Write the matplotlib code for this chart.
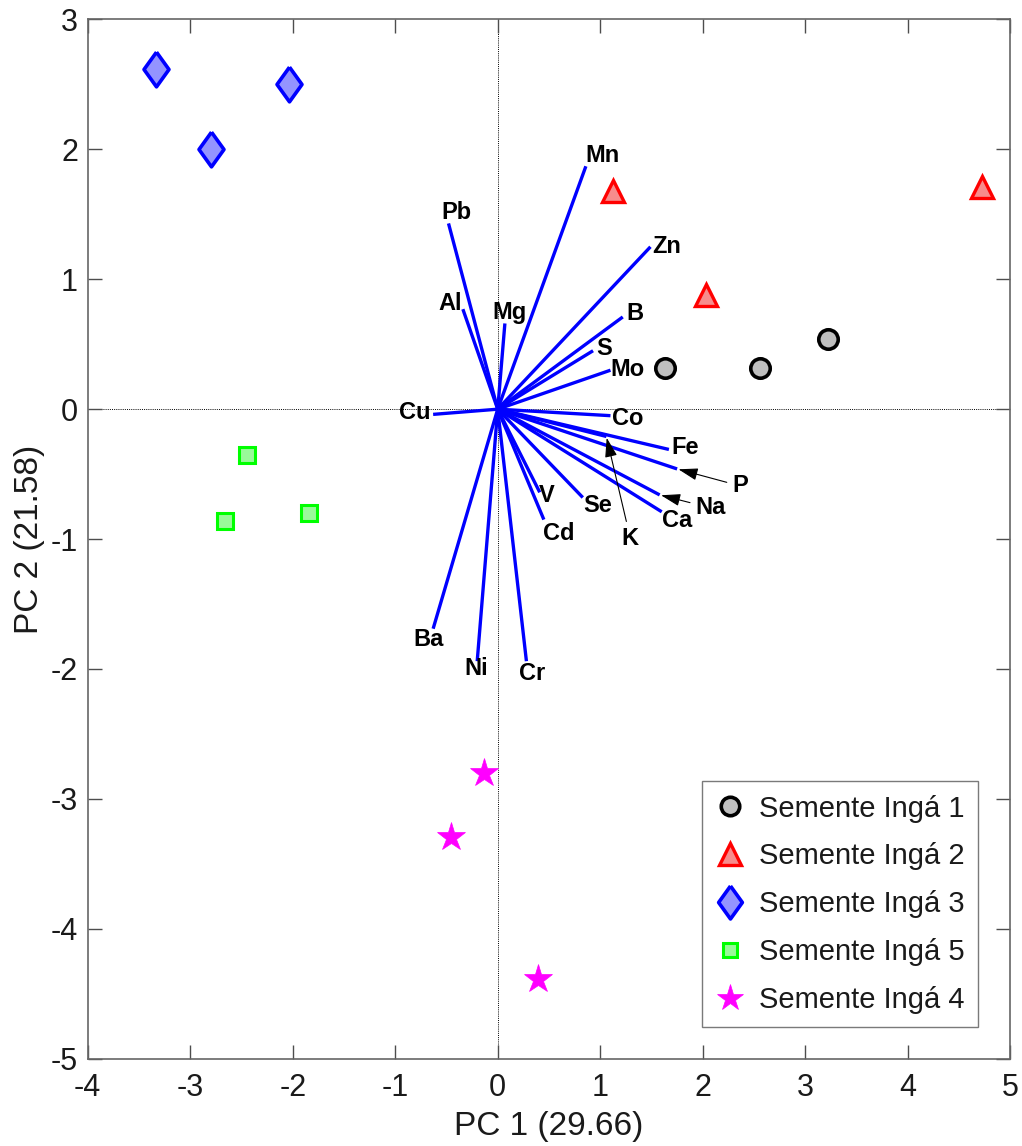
import matplotlib
matplotlib.use("Agg")
import matplotlib.pyplot as plt
import numpy as np

# ---------------- data ----------------
variables = ["Mn", "Pb", "Al", "Mg", "Zn", "B", "S", "Mo", "Cu", "Co", "Fe",
             "P", "Na", "Ca", "K", "Se", "V", "Cd", "Ba", "Ni", "Cr"]
load_pc1 = [0.86, -0.48, -0.34, 0.07, 1.49, 1.22, 0.93, 1.10, -0.63, 1.10, 1.67,
            1.75, 1.58, 1.60, 1.06, 0.83, 0.41, 0.45, -0.63, -0.20, 0.28]
load_pc2 = [1.87, 1.43, 0.77, 0.66, 1.25, 0.71, 0.45, 0.30, -0.04, -0.05, -0.31,
            -0.46, -0.66, -0.79, -0.21, -0.68, -0.64, -0.85, -1.69, -1.94, -1.94]

groups = ["Semente Ingá 1", "Semente Ingá 2", "Semente Ingá 3",
          "Semente Ingá 5", "Semente Ingá 4"]
score_pc1 = [
    [1.63, 2.56, 3.22],
    [1.12, 2.03, 4.72],
    [-3.33, -2.04, -2.80],
    [-2.45, -2.66, -1.84],
    [-0.13, -0.46, 0.39],
]
score_pc2 = [
    [0.32, 0.32, 0.54],
    [1.68, 0.88, 1.71],
    [2.62, 2.50, 2.00],
    [-0.35, -0.86, -0.80],
    [-2.80, -3.29, -4.39],
]

xlabel = "PC 1 (29.66)"
ylabel = "PC 2 (21.58)"
xticks = [-4, -3, -2, -1, 0, 1, 2, 3, 4, 5]
yticks = [-5, -4, -3, -2, -1, 0, 1, 2, 3]

# ---------------- styles ----------------
diamond = [(0, 1), (0.72, 0), (0, -1), (-0.72, 0), (0, 1)]
marker_styles = [
    dict(marker="o", ms=14, mfc=(0.75, 0.75, 0.75), mec="black", mew=2.6),
    dict(marker="^", ms=16, mfc=(0.97, 0.55, 0.55), mec=(1, 0, 0), mew=2.4),
    dict(marker=diamond, ms=25, mfc=(0.58, 0.58, 1.0), mec=(0, 0, 1), mew=2.6),
    dict(marker="s", ms=11, mfc=(0.6, 0.98, 0.6), mec=(0, 1, 0), mew=2.2),
    dict(marker="*", ms=21, mfc=(1, 0, 1), mec=(1, 0, 1), mew=0.5),
]
# label offsets in pixels (dx, dy up)
label_offsets = {
    "Mn": (17, 11), "Pb": (8, 11), "Al": (-13, 6), "Mg": (5, 11),
    "Zn": (16, 0), "B": (12, 3), "S": (11, 2), "Mo": (17, 1),
    "Cu": (-18, 2), "Co": (17, -3), "Fe": (16, 2), "Ca": (15, -9),
    "Se": (15, -8), "V": (7, -3), "Cd": (15, -14), "Ba": (-5, -11),
    "Ni": (-1, -7), "Cr": (6, -12),
    "P": (63, -17), "Na": (51, -13), "K": (24, -102),
}
arrow_labels = {"P", "Na", "K"}

plt.rcParams["font.family"] = ["Liberation Sans", "DejaVu Sans"]
plt.rcParams["axes.unicode_minus"] = False

fig = plt.figure(figsize=(10.22, 11.46), dpi=100)
ax = fig.add_axes([0.0858, 0.0762, 0.9027, 0.9068])

ax.set_xlim(-4, 5)
ax.set_ylim(-5, 3)

# zero lines
ax.axhline(0, color="black", lw=0.7, ls=(0, (1, 1.2)), zorder=1)
ax.axvline(0, color="black", lw=0.7, ls=(0, (1, 1.2)), zorder=1)

LFS = 17
# loading vectors
for name, lx, ly in zip(variables, load_pc1, load_pc2):
    ax.plot([0, lx], [0, ly], color=(0, 0, 1), lw=2.4, solid_capstyle="butt", zorder=2)
    dx, dy = label_offsets[name]
    if name in arrow_labels:
        ax.annotate(name, xy=(lx, ly), xytext=(dx, dy), textcoords="offset pixels",
                    ha="center", va="center", fontsize=LFS, fontweight="bold",
                    arrowprops=dict(arrowstyle="-|>,head_length=0.7,head_width=0.22",
                                    color="black", lw=0.8, shrinkA=2, shrinkB=1),
                    zorder=4)
    else:
        ax.annotate(name, xy=(lx, ly), xytext=(dx, dy), textcoords="offset pixels",
                    ha="center", va="center", fontsize=LFS, fontweight="bold", zorder=4)

# scores
for g, xs, ys, st in zip(groups, score_pc1, score_pc2, marker_styles):
    ax.plot(xs, ys, linestyle="none", label=g, zorder=3, **st)

ax.set_xticks(xticks)
ax.set_yticks(yticks)
ax.tick_params(direction="in", length=10, width=1.0, labelsize=22, colors=(0.3, 0.3, 0.3),
               top=True, right=True, pad=7)
ax.tick_params(axis="x", pad=10)
for lab in ax.get_xticklabels() + ax.get_yticklabels():
    lab.set_color((0.1, 0.1, 0.1))
for sp in ax.spines.values():
    sp.set_color((0.4, 0.4, 0.4))
    sp.set_linewidth(1.2)

ax.set_xlabel(xlabel, fontsize=24, labelpad=6, color=(0.1, 0.1, 0.1))
ax.set_ylabel(ylabel, fontsize=24, labelpad=4, color=(0.1, 0.1, 0.1))

leg = ax.legend(loc="lower right", bbox_to_anchor=(0.965, 0.0305), borderaxespad=0,
                fontsize=21, frameon=True, fancybox=False, edgecolor=(0.35, 0.35, 0.35),
                handlelength=1.0, handletextpad=0.5, labelspacing=0.68, borderpad=0.45,
                markerscale=0.95)
leg.get_frame().set_linewidth(1.0)
for t in leg.get_texts():
    t.set_color((0.1, 0.1, 0.1))

fig.savefig("out.png", dpi=100)
